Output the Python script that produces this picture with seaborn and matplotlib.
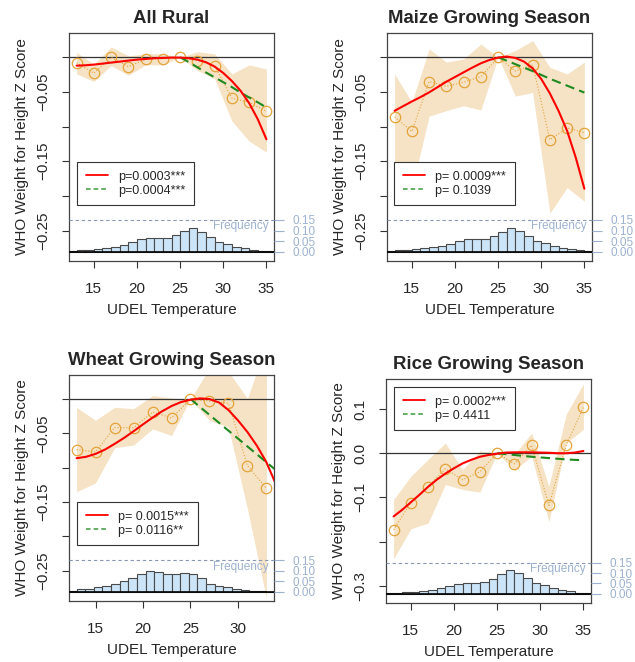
import numpy as np
import pandas as pd
import matplotlib
matplotlib.use('Agg')
import matplotlib.pyplot as plt
import matplotlib.transforms as mtrans
from matplotlib.lines import Line2D
import seaborn as sns

sns.set_style('white')
plt.rcParams['font.family'] = ['Liberation Sans', 'DejaVu Sans']
plt.rcParams['axes.unicode_minus'] = True

# temperature bins (binned means) and fitted curve grids
temp = [13, 15, 17, 19, 21, 23, 25, 27, 29, 31, 33, 35]
temp_wheat = [13, 15, 17, 19, 21, 23, 25, 27, 29, 31, 33]
fit_x = list(range(13, 36))
fit_x_wheat = list(range(13, 35))
lin_x = list(range(25, 36))
lin_x_wheat = list(range(25, 35))
hist_left = list(range(12, 36))

# All Rural
rural_pts = [-0.008, -0.023, 0.0, -0.0135, -0.003, -0.002, 0.0, -0.005, -0.012, -0.059, -0.065, -0.078]
rural_hi = [0.007, -0.010, 0.015, 0.002, 0.005, 0.005, 0.0, 0.008, 0.005, -0.024, -0.011, -0.017]
rural_lo = [-0.024, -0.035, -0.012, -0.026, -0.011, -0.011, 0.0, -0.019, -0.031, -0.092, -0.121, -0.137]
rural_red = [-0.0121, -0.0116, -0.0106, -0.0092, -0.0077, -0.0063, -0.0048, -0.0034, -0.0024, -0.0014,
             -0.0010, -0.0005, -0.0005, -0.0014, -0.0034, -0.0072, -0.0135, -0.0227, -0.0343, -0.0483,
             -0.0662, -0.0894, -0.1183]
rural_green = [0.0, -0.007, -0.0145, -0.022, -0.029, -0.036, -0.043, -0.051, -0.058, -0.065, -0.0725]
rural_freq = [0.004, 0.007, 0.010, 0.013, 0.018, 0.024, 0.032, 0.044, 0.058, 0.064, 0.064, 0.065,
              0.079, 0.099, 0.112, 0.094, 0.070, 0.046, 0.035, 0.024, 0.016, 0.010, 0.005, 0.002]

# Maize
maize_pts = [-0.086, -0.107, -0.035, -0.042, -0.036, -0.028, 0.0, -0.020, -0.011, -0.119, -0.102, -0.109]
maize_hi = [-0.024, -0.065, 0.012, -0.007, -0.0025, 0.019, 0.0, 0.0097, 0.024, -0.0145, -0.024, -0.007]
maize_lo = [-0.165, -0.190, -0.085, -0.077, -0.070, -0.076, 0.0, -0.056, -0.051, -0.225, -0.188, -0.208]
maize_red = [-0.0773, -0.0705, -0.0638, -0.0575, -0.0507, -0.0430, -0.0353, -0.0285, -0.0217, -0.0150,
             -0.0087, -0.0039, -0.0005, 0.0010, -0.0010, -0.0063, -0.0159, -0.0314, -0.0522, -0.0773,
             -0.1063, -0.1449, -0.1898]
maize_green = [0.0, -0.005, -0.010, -0.015, -0.020, -0.0255, -0.031, -0.036, -0.041, -0.046, -0.051]
maize_freq = [0.003, 0.006, 0.009, 0.012, 0.016, 0.021, 0.028, 0.038, 0.052, 0.058, 0.058, 0.061,
              0.074, 0.095, 0.112, 0.096, 0.075, 0.052, 0.040, 0.028, 0.019, 0.011, 0.006, 0.002]

# Wheat
wheat_pts = [-0.0735, -0.077, -0.0416, -0.0416, -0.019, -0.0276, 0.0, -0.003, -0.006, -0.097, -0.130]
wheat_hi = [-0.012, -0.031, -0.012, -0.014, 0.005, 0.0015, 0.0, 0.045, 0.040, 0.001, 0.080]
wheat_lo = [-0.135, -0.122, -0.071, -0.067, -0.0435, -0.053, 0.0, -0.031, -0.041, -0.160, -0.290]
wheat_red = [-0.0861, -0.0841, -0.0798, -0.0735, -0.0653, -0.0566, -0.0469, -0.0368, -0.0271, -0.0179,
             -0.0102, -0.0044, -0.0010, 0.0010, 0.0, -0.005, -0.016, -0.031, -0.048, -0.068,
             -0.092, -0.124]
wheat_green = [0.0, -0.0115, -0.023, -0.0345, -0.046, -0.0575, -0.069, -0.0805, -0.092, -0.1035]
wheat_freq = [0.005, 0.011, 0.014, 0.022, 0.027, 0.038, 0.049, 0.065, 0.085, 0.097, 0.092, 0.085,
              0.085, 0.088, 0.085, 0.065, 0.038, 0.027, 0.022, 0.014, 0.007, 0.004, 0.002, 0.0]

# Rice
rice_pts = [-0.173, -0.112, -0.076, -0.035, -0.060, -0.042, 0.0, -0.024, 0.018, -0.118, 0.018, 0.104]
rice_hi = [-0.105, -0.052, -0.014, 0.023, -0.037, 0.005, 0.0, -0.003, 0.046, -0.075, 0.088, 0.157]
rice_lo = [-0.239, -0.171, -0.158, -0.071, -0.082, -0.088, 0.0, -0.038, -0.007, -0.155, 0.023, 0.054]
rice_red = [-0.143, -0.128, -0.111, -0.094, -0.076, -0.060, -0.046, -0.034, -0.023, -0.015,
            -0.008, -0.004, -0.001, 0.0015, 0.002, 0.002, 0.002, 0.0015, 0.001, 0.0,
            0.0, 0.0015, 0.005]
rice_green = [0.0, -0.002, -0.004, -0.006, -0.008, -0.0095, -0.011, -0.0125, -0.014, -0.015, -0.016]
rice_freq = [0.002, 0.004, 0.007, 0.011, 0.015, 0.020, 0.027, 0.036, 0.047, 0.053, 0.053, 0.057,
             0.071, 0.095, 0.117, 0.099, 0.076, 0.052, 0.042, 0.030, 0.020, 0.012, 0.006, 0.002]

W, H = 635, 662
BAND = '#F6E3C5'
PTS = '#E3A33A'
HISTBLUE = '#9DB2D0'


def draw_panel(box, title, x_pts, pts, lo, hi, x_fit, red, x_lin, green, freq, pvals,
               xlim, ylim, yticks, ylabels, xticks, leg_anchor):
    l, t, r, b = box
    ax = fig.add_axes([l / W, 1 - b / H, (r - l) / W, (b - t) / H])

    ax.fill_between(x_pts, lo, hi, color=BAND, lw=0, zorder=1)
    ax.axhline(0, color='#333333', lw=0.9, zorder=2)
    sns.lineplot(x=x_pts, y=pts, ax=ax, color=PTS, lw=0.8, linestyle=':', marker='o',
                 markersize=7.5, markerfacecolor='none', markeredgecolor=PTS,
                 markeredgewidth=0.9, zorder=3)
    sns.lineplot(x=x_lin, y=green, ax=ax, color='#1F8A1F', lw=1.5, linestyle=(0, (4.5, 2.5)), zorder=4)
    sns.lineplot(x=x_fit, y=red, ax=ax, color='red', lw=1.5, zorder=4)

    ax.set_xlim(*xlim)
    ax.set_ylim(*ylim)
    ax.set_xticks(xticks)
    ax.set_xticklabels([str(v) for v in xticks])
    ax.set_yticks(yticks)
    ax.set_yticklabels(ylabels, rotation=90, va='center')
    ax.tick_params(left=True, bottom=True, direction='out', length=5, width=0.8,
                   color='#333333', labelsize=11)
    ax.tick_params(axis='x', pad=10)
    ax.tick_params(axis='y', pad=8.5)
    for sp in ax.spines.values():
        sp.set_color('#444444')
        sp.set_linewidth(0.9)
    ax.set_title(title, fontsize=13.4, fontweight='bold', pad=7)
    ax.set_xlabel('UDEL Temperature', fontsize=11, labelpad=5)
    ax.set_ylabel('WHO Weight for Height Z Score', fontsize=11, labelpad=5.5)

    handles = [Line2D([], [], color='red', lw=1.3),
               Line2D([], [], color='#3A9A3A', lw=1.1, linestyle=(0, (3, 2)))]
    leg = ax.legend(handles, pvals, loc='upper left', bbox_to_anchor=leg_anchor,
                    borderaxespad=0, fancybox=False, framealpha=1, edgecolor='#333333',
                    fontsize=9, handlelength=1.8, handletextpad=0.8, borderpad=0.7,
                    labelspacing=0.15)
    leg.get_frame().set_linewidth(0.8)
    leg.set_zorder(20)

    # frequency histogram overlay on its own scale
    hx = ax.inset_axes([0, 0, 1, 1])
    hx.set_zorder(6)
    hx.patch.set_alpha(0)
    hx.set_xlim(12.12, 35.88)
    hx.set_ylim(-0.0442, 1.035)
    hx.bar(hist_left, freq, width=1, align='edge', color='#CCE4F8',
           edgecolor='#4A4A4A', lw=0.8)
    hx.axhline(0.15, color='#8797B4', lw=0.8, linestyle=(0, (3, 2.5)))
    hx.axhline(0, color='black', lw=1.2)
    for sp in hx.spines.values():
        sp.set_visible(False)
    hx.set_xticks([])
    hx.yaxis.tick_right()
    hx.set_yticks([0, 0.05, 0.10, 0.15])
    hx.set_yticklabels(['0.00', '0.05', '0.10', '0.15'])
    hx.tick_params(axis='y', right=True, left=False, direction='out', length=7, width=0.8,
                   color=HISTBLUE, labelcolor=HISTBLUE, labelsize=8.5, pad=6)
    tr = mtrans.blended_transform_factory(hx.transAxes, hx.transData)
    hx.text(0.975, 0.12, 'Frequency', transform=tr, ha='right', va='center',
            color=HISTBLUE, fontsize=8.5)
    return ax


fig = plt.figure(figsize=(W / 100, H / 100), dpi=100)

main_ticks = [0, -0.05, -0.10, -0.15, -0.20, -0.25]
main_labels = ['', '\u22120.05', '', '\u22120.15', '', '\u22120.25']

draw_panel((69, 33, 274, 261), 'All Rural', temp, rural_pts, rural_lo, rural_hi,
           fit_x, rural_red, lin_x, rural_green, rural_freq,
           ['p=0.0003***', 'p=0.0004***'],
           (12.12, 35.88), (-0.294, 0.035), main_ticks, main_labels,
           [15, 20, 25, 30, 35], (0.039, 0.434))

draw_panel((387, 33, 592, 261), 'Maize Growing Season', temp, maize_pts, maize_lo, maize_hi,
           fit_x, maize_red, lin_x, maize_green, maize_freq,
           ['p= 0.0009***', 'p= 0.1039'],
           (12.12, 35.88), (-0.294, 0.035), main_ticks, main_labels,
           [15, 20, 25, 30, 35], (0.034, 0.434))

draw_panel((69, 375, 274, 601), 'Wheat Growing Season', temp_wheat, wheat_pts, wheat_lo, wheat_hi,
           fit_x_wheat, wheat_red, lin_x_wheat, wheat_green, wheat_freq,
           ['p= 0.0015***', 'p= 0.0116**'],
           (12.2, 33.8), (-0.294, 0.035), main_ticks, main_labels,
           [15, 20, 25, 30], (0.039, 0.438))

draw_panel((386, 379, 591, 603), 'Rice Growing Season', temp, rice_pts, rice_lo, rice_hi,
           fit_x, rice_red, lin_x, rice_green, rice_freq,
           ['p= 0.0002***', 'p= 0.4411'],
           (12.12, 35.88), (-0.339, 0.168), [0.1, 0.0, -0.1, -0.2, -0.3],
           ['0.1', '0.0', '\u22120.1', '', '\u22120.3'],
           [15, 20, 25, 30, 35], (0.039, 0.964))

fig.savefig('out.png', dpi=100)
